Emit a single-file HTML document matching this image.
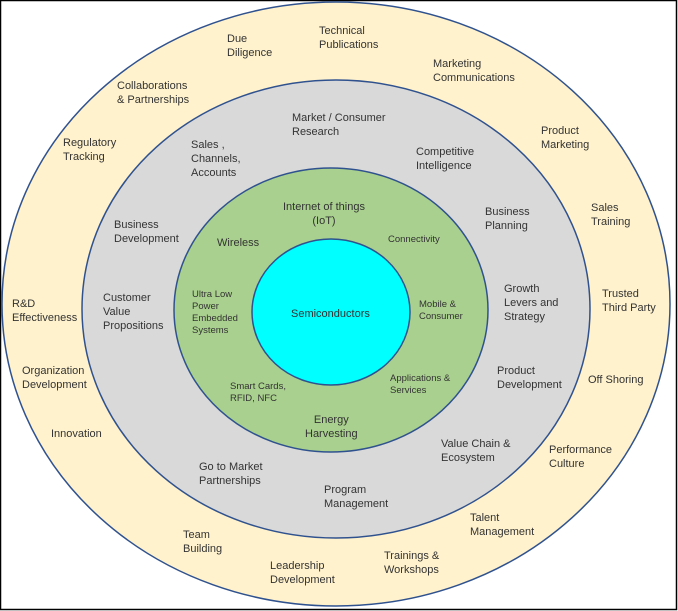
<!DOCTYPE html>
<html><head><meta charset="utf-8"><style>
body{margin:0;width:678px;height:611px;background:#fff;position:relative;overflow:hidden;font-family:"Liberation Sans",sans-serif;}
.t{position:absolute;font-size:11px;line-height:14px;color:#333;white-space:nowrap;}
.s{font-size:9.5px;line-height:12px;}
.c{text-align:center;}
</style></head><body>
<svg width="678" height="611" style="position:absolute;left:0;top:0">
<rect x="0.5" y="0.5" width="676" height="609" fill="#fff" stroke="#000" stroke-width="1.5"/>
<ellipse cx="336" cy="304" rx="334" ry="302" fill="#fff2cc" stroke="#2f528f" stroke-width="1.5"/>
<ellipse cx="336" cy="309" rx="254" ry="229" fill="#d9d9d9" stroke="#2f528f" stroke-width="1.5"/>
<ellipse cx="331" cy="310" rx="157" ry="142" fill="#a9d08e" stroke="#2f528f" stroke-width="1.5"/>
<ellipse cx="331" cy="312" rx="79" ry="73" fill="#00ffff" stroke="#2f528f" stroke-width="1.5"/>
</svg>
<div class="t" style="left:227px;top:32px">Due<br>Diligence</div>
<div class="t" style="left:319px;top:24px">Technical<br>Publications</div>
<div class="t" style="left:433px;top:57px">Marketing<br>Communications</div>
<div class="t" style="left:117px;top:79px">Collaborations<br>&amp; Partnerships</div>
<div class="t" style="left:541px;top:124px">Product<br>Marketing</div>
<div class="t" style="left:63px;top:136px">Regulatory<br>Tracking</div>
<div class="t" style="left:591px;top:201px">Sales<br>Training</div>
<div class="t" style="left:602px;top:287px">Trusted<br>Third Party</div>
<div class="t" style="left:12px;top:297px">R&amp;D<br>Effectiveness</div>
<div class="t" style="left:22px;top:364px">Organization<br>Development</div>
<div class="t" style="left:588px;top:373px">Off Shoring</div>
<div class="t" style="left:51px;top:427px">Innovation</div>
<div class="t" style="left:549px;top:443px">Performance<br>Culture</div>
<div class="t" style="left:470px;top:511px">Talent<br>Management</div>
<div class="t" style="left:183px;top:528px">Team<br>Building</div>
<div class="t" style="left:384px;top:549px">Trainings &amp;<br>Workshops</div>
<div class="t" style="left:270px;top:559px">Leadership<br>Development</div>

<div class="t" style="left:292px;top:111px">Market / Consumer<br>Research</div>
<div class="t" style="left:191px;top:138px">Sales ,<br>Channels,<br>Accounts</div>
<div class="t" style="left:416px;top:145px">Competitive<br>Intelligence</div>
<div class="t" style="left:485px;top:205px">Business<br>Planning</div>
<div class="t" style="left:114px;top:218px">Business<br>Development</div>
<div class="t" style="left:504px;top:282px">Growth<br>Levers and<br>Strategy</div>
<div class="t" style="left:103px;top:291px">Customer<br>Value<br>Propositions</div>
<div class="t" style="left:497px;top:364px">Product<br>Development</div>
<div class="t" style="left:441px;top:437px">Value Chain &amp;<br>Ecosystem</div>
<div class="t" style="left:199px;top:460px">Go to Market<br>Partnerships</div>
<div class="t" style="left:324px;top:483px">Program<br>Management</div>

<div class="t c" style="left:283px;top:200px">Internet of things<br>(IoT)</div>
<div class="t" style="left:217px;top:236px">Wireless</div>
<div class="t s" style="left:388px;top:234px">Connectivity</div>
<div class="t s" style="left:192px;top:289px">Ultra Low<br>Power<br>Embedded<br>Systems</div>
<div class="t s" style="left:419px;top:299px">Mobile &amp;<br>Consumer</div>
<div class="t s" style="left:390px;top:373px">Applications &amp;<br>Services</div>
<div class="t s" style="left:230px;top:381px">Smart Cards,<br>RFID, NFC</div>
<div class="t c" style="left:305px;top:413px">Energy<br>Harvesting</div>
<div class="t" style="left:291px;top:307px">Semiconductors</div>
</body></html>
